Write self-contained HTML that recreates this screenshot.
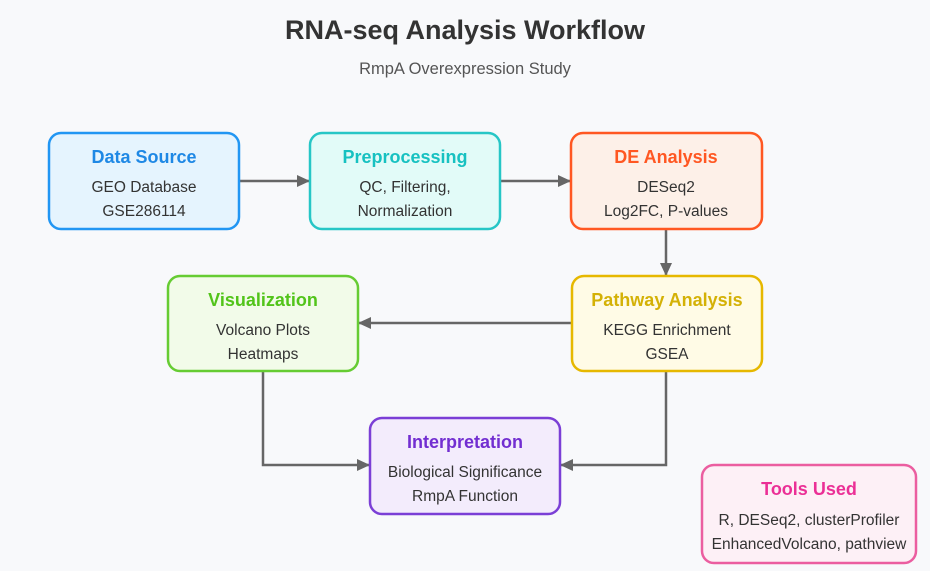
<!DOCTYPE html>
<html><head><meta charset="utf-8"><style>
body{margin:0;background:#f8f9fb;}
svg{display:block;font-family:"Liberation Sans",sans-serif;}
.t{font-size:18px;font-weight:bold;text-anchor:middle}
.s{font-size:15.5px;fill:#333;text-anchor:middle}
</style></head><body>
<svg width="930" height="571" viewBox="0 0 930 571">
<defs><marker id="a" markerWidth="13" markerHeight="12" refX="12" refY="6" orient="auto" markerUnits="userSpaceOnUse"><path d="M0,0 L13,6 L0,12 z" fill="#666"/></marker></defs>
<rect width="930" height="571" fill="#f8f9fb"/>
<text x="465" y="39" text-anchor="middle" font-size="27" font-weight="bold" fill="#333">RNA-seq Analysis Workflow</text>
<text x="465" y="74" text-anchor="middle" font-size="16.5" fill="#555">RmpA Overexpression Study</text>
<g stroke="#666" stroke-width="2.5" fill="none" marker-end="url(#a)">
<line x1="240" y1="181" x2="309" y2="181"/>
<line x1="501" y1="181" x2="570" y2="181"/>
<line x1="666" y1="230" x2="666" y2="275"/>
<line x1="571" y1="323" x2="359" y2="323"/>
<polyline points="263,372 263,465 369,465"/>
<polyline points="666,372 666,465 561,465"/>
</g>
<rect x="49" y="133" width="190" height="96" rx="12" fill="#e5f4fe" stroke="#2196f3" stroke-width="2.5"/>
<text class="t" x="144" y="163" fill="#1e88e5">Data Source</text>
<text class="s" x="144" y="192">GEO Database</text><text class="s" x="144" y="216">GSE286114</text>
<rect x="310" y="133" width="190" height="96" rx="12" fill="#e2fbf8" stroke="#26c6c6" stroke-width="2.5"/>
<text class="t" x="405" y="163" fill="#17c1c1">Preprocessing</text>
<text class="s" x="405" y="192">QC, Filtering,</text><text class="s" x="405" y="216">Normalization</text>
<rect x="571" y="133" width="191" height="96" rx="12" fill="#fdf0e8" stroke="#ff5722" stroke-width="2.5"/>
<text class="t" x="666" y="163" fill="#ff5722">DE Analysis</text>
<text class="s" x="666" y="192">DESeq2</text><text class="s" x="666" y="216">Log2FC, P-values</text>
<rect x="168" y="276" width="190" height="95" rx="12" fill="#f2fbe9" stroke="#66cc33" stroke-width="2.5"/>
<text class="t" x="263" y="306" fill="#52c41a">Visualization</text>
<text class="s" x="263" y="335">Volcano Plots</text><text class="s" x="263" y="359">Heatmaps</text>
<rect x="572" y="276" width="190" height="95" rx="12" fill="#fffbe6" stroke="#e6b800" stroke-width="2.5"/>
<text class="t" x="667" y="306" fill="#d4b106">Pathway Analysis</text>
<text class="s" x="667" y="335">KEGG Enrichment</text><text class="s" x="667" y="359">GSEA</text>
<rect x="370" y="418" width="190" height="96" rx="12" fill="#f3ecfc" stroke="#7b3fd6" stroke-width="2.5"/>
<text class="t" x="465" y="448" fill="#722ed1">Interpretation</text>
<text class="s" x="465" y="477">Biological Significance</text><text class="s" x="465" y="501">RmpA Function</text>
<rect x="702" y="465" width="214" height="98" rx="12" fill="#fdf0f6" stroke="#eb5ea0" stroke-width="2.5"/>
<text class="t" x="809" y="495" fill="#eb2f96">Tools Used</text>
<text class="s" x="809" y="525">R, DESeq2, clusterProfiler</text><text class="s" x="809" y="549">EnhancedVolcano, pathview</text>
</svg>
</body></html>
